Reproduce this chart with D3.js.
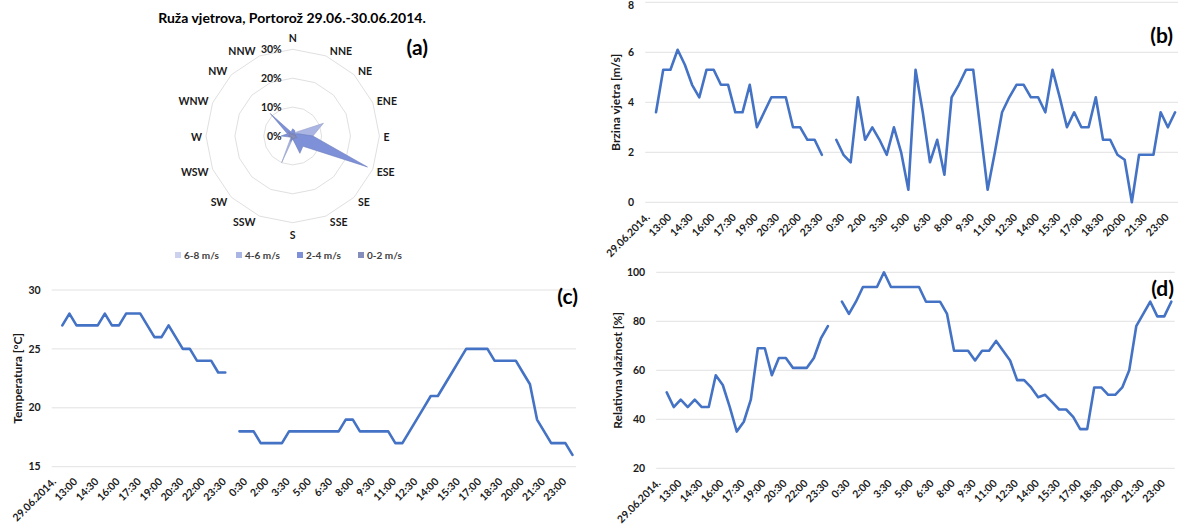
<!DOCTYPE html>
<html>
<head>
<meta charset="utf-8">
<script src="https://cdnjs.cloudflare.com/ajax/libs/d3/7.8.5/d3.min.js"></script>
<style>
body { margin: 0; background: #fff; }
svg { display: block; font-family: Lato, 'Open Sans', sans-serif; }
</style>
</head>
<body>
<div id="chart"></div>
<script>
//Half-hour categories, a date row starts each day
var categories = ['29.06.2014.',
    '12:00','12:30','13:00','13:30','14:00','14:30','15:00','15:30','16:00','16:30','17:00','17:30',
    '18:00','18:30','19:00','19:30','20:00','20:30','21:00','21:30','22:00','22:30','23:00','23:30',
    '30.06.2014.',
    '0:00','0:30','1:00','1:30','2:00','2:30','3:00','3:30','4:00','4:30','5:00','5:30',
    '6:00','6:30','7:00','7:30','8:00','8:30','9:00','9:30','10:00','10:30','11:00','11:30',
    '12:00','12:30','13:00','13:30','14:00','14:30','15:00','15:30','16:00','16:30','17:00','17:30',
    '18:00','18:30','19:00','19:30','20:00','20:30','21:00','21:30','22:00','22:30','23:00','23:30'];

var windSpeed = [null,
    3.6, 5.3, 5.3, 6.1, 5.5, 4.7, 4.2, 5.3, 5.3, 4.7, 4.7, 3.6, 3.6, 4.7, 3.0, 3.6, 4.2, 4.2, 4.2, 3.0, 3.0, 2.5, 2.5, 1.9,
    null,
    2.5, 1.9, 1.6, 4.2, 2.5, 3.0, 2.5, 1.9, 3.0, 2.0, 0.5, 5.3, 3.6, 1.6, 2.5, 1.1, 4.2, 4.7, 5.3, 5.3,
    2.9, 0.5, 2.0, 3.6, 4.2, 4.7, 4.7, 4.2, 4.2, 3.6, 5.3, 4.2, 3.0, 3.6, 3.0, 3.0, 4.2, 2.5, 2.5, 1.9,
    1.7, 0, 1.9, 1.9, 1.9, 3.6, 3.0, 3.6];

var temperature = [null,
    27, 28, 27, 27, 27, 27, 28, 27, 27, 28, 28, 28, 27, 26, 26, 27, 26, 25, 25, 24, 24, 24, 23, 23,
    null,
    18, 18, 18, 17, 17, 17, 17, 18, 18, 18, 18, 18, 18, 18, 18, 19, 19, 18, 18, 18, 18, 18, 17, 17,
    18, 19, 20, 21, 21, 22, 23, 24, 25, 25, 25, 25, 24, 24, 24, 24, 23, 22, 19, 18, 17, 17, 17, 16];

var humidity = [null,
    51, 45, 48, 45, 48, 45, 45, 58, 54, 45, 35, 39, 48, 69, 69, 58, 65, 65, 61, 61, 61, 65, 73, 78,
    null,
    88, 83, 88, 94, 94, 94, 100, 94, 94, 94, 94, 94, 88, 88, 88, 83, 68, 68, 68, 64, 68, 68, 72, 68,
    64, 56, 56, 53, 49, 50, 47, 44, 44, 41, 36, 36, 53, 53, 50, 50, 53, 60, 78, 83, 88, 82, 82, 88];

var windTicks = [0, 2, 4, 6, 8];
var tempTicks = [15, 20, 25, 30];
var humTicks = [20, 40, 60, 80, 100];

//Wind rose, share of time [%] per direction and speed class
var directions = ['N','NNE','NE','ENE','E','ESE','SE','SSE','S','SSW','SW','WSW','W','WNW','NW','NNW'];
var speedClasses = ['6-8 m/s', '4-6 m/s', '2-4 m/s', '0-2 m/s'];
var rose68 = [0, 0, 0.5, 1, 0.5, 0.5, 0, 0, 0, 0, 0, 0, 0, 0, 0, 0];
var rose46 = [1, 1, 2, 11.5, 7, 7, 2, 1, 1, 10, 1, 0.5, 0.5, 0.5, 1, 1];
var rose24 = [2.5, 2, 1, 2, 7, 28, 5, 6.5, 1, 2, 0.5, 1, 4, 2, 11, 1.5];
var rose02 = [1, 0.5, 0.5, 1, 1, 1.5, 1, 1, 1, 1, 0.5, 1, 1.5, 1, 2, 0.5];
var roseTicks = [0, 10, 20, 30];

var lineColor = '#4472c4';
var roseColors = ['#ccd2ee', '#aab5e4', '#7e90d8', '#858dbb'];
var textColor = '#1a1a1a';

var svg = d3.select('#chart')
    .append('svg')
    .attr('width', 1178)
    .attr('height', 524);

drawRose();
drawLineChart({values: windSpeed, left: 645.2, right: 1178.7, top: 2.3, bottom: 202.3,
    domain: [0, 8], ticks: windTicks, title: 'Brzina vjetra [m/s]', titleX: 616,
    letter: '(b)', letterX: 1173, letterY: 43});
drawLineChart({values: temperature, left: 51.7, right: 576, top: 290, bottom: 466.7,
    domain: [15, 30], ticks: tempTicks, title: 'Temperatura [°C]', titleX: 18,
    letter: '(c)', letterX: 578, letterY: 304});
drawLineChart({values: humidity, left: 656.2, right: 1174.8, top: 272.3, bottom: 468.3,
    domain: [20, 100], ticks: humTicks, title: 'Relativna vlažnost [%]', titleX: 618,
    letter: '(d)', letterX: 1174, letterY: 296});

function drawLineChart(o){
    var x = d3.scaleBand()
        .domain(d3.range(categories.length))
        .range([o.left, o.right]);
    var cx = function(i){ return x(i) + x.bandwidth() / 2; };

    var y = d3.scaleLinear()
        .domain(o.domain)
        .range([o.bottom, o.top]);

    var g = svg.append('g');

    //Horizontal gridlines
    g.selectAll('.grid')
        .data(o.ticks)
        .enter()
        .append('line')
        .attr('x1', o.left)
        .attr('x2', o.right)
        .attr('y1', function(d){ return y(d); })
        .attr('y2', function(d){ return y(d); })
        .style('stroke', '#e2e2e2')
        .style('stroke-width', 1);

    //Y tick labels (kept inside the page at the top)
    g.selectAll('.ytick')
        .data(o.ticks)
        .enter()
        .append('text')
        .attr('x', o.left - 11)
        .attr('y', function(d){ return Math.max(y(d), 5); })
        .attr('dy', '0.35em')
        .attr('text-anchor', 'end')
        .style('font-size', '10.5px')
        .style('font-weight', 700)
        .style('fill', textColor)
        .text(function(d){ return d; });

    //X tick labels, every third category
    g.selectAll('.xtick')
        .data(d3.range(0, categories.length, 3))
        .enter()
        .append('text')
        .attr('transform', function(i){
            return 'translate(' + (cx(i) - 1) + ',' + (o.bottom + 13) + ') rotate(-45)';
        })
        .attr('dy', '0.35em')
        .attr('text-anchor', 'end')
        .style('font-size', '10.5px')
        .style('font-weight', 700)
        .style('fill', textColor)
        .text(function(i){ return categories[i]; });

    //Data line, broken at the date rows
    var line = d3.line()
        .defined(function(d){ return d != null; })
        .x(function(d, i){ return cx(i); })
        .y(function(d){ return y(d); });

    g.append('path')
        .attr('d', line(o.values))
        .style('fill', 'none')
        .style('stroke', lineColor)
        .style('stroke-width', 2.6)
        .style('stroke-linejoin', 'round')
        .style('stroke-linecap', 'round');

    //Axis title
    g.append('text')
        .attr('transform', 'translate(' + o.titleX + ',' + ((o.top + o.bottom) / 2) + ') rotate(-90)')
        .attr('dy', '0.35em')
        .attr('text-anchor', 'middle')
        .style('font-size', '12px')
        .style('font-weight', 700)
        .style('fill', textColor)
        .text(o.title);

    g.append('text')
        .attr('x', o.letterX)
        .attr('y', o.letterY)
        .attr('text-anchor', 'end')
        .style('font-size', '21px')
        .style('font-weight', 700)
        .style('fill', '#000')
        .text(o.letter);
}

function drawRose(){
    var cx0 = 292.7, cy0 = 136;
    var step = 2 * Math.PI / directions.length;
    var r = d3.scaleLinear().domain([0, 30]).range([0, 86.7]);
    var g = svg.append('g').attr('transform', 'translate(' + cx0 + ',' + cy0 + ')');

    svg.append('text')
        .attr('x', 292)
        .attr('y', 23)
        .attr('text-anchor', 'middle')
        .style('font-size', '14px')
        .style('font-weight', 700)
        .style('fill', '#000')
        .text('Ruža vjetrova, Portorož 29.06.-30.06.2014.');

    svg.append('text')
        .attr('x', 428)
        .attr('y', 55)
        .attr('text-anchor', 'end')
        .style('font-size', '21px')
        .style('font-weight', 700)
        .style('fill', '#000')
        .text('(a)');

    var radial = d3.lineRadial()
        .angle(function(d, i){ return i * step; })
        .curve(d3.curveLinearClosed);

    //Polygon rings
    g.selectAll('.ring')
        .data(roseTicks.slice(1))
        .enter()
        .append('path')
        .attr('d', function(t){
            return radial.radius(r(t))(directions);
        })
        .style('fill', 'none')
        .style('stroke', '#e0e0e0')
        .style('stroke-width', 1);

    //Filled series, 0-2 m/s on top
    var series = [rose68, rose46, rose24, rose02];
    g.selectAll('.area')
        .data(series)
        .enter()
        .append('path')
        .attr('d', function(s){
            return radial.radius(function(d){ return r(d); })(s);
        })
        .style('fill', function(s, i){ return roseColors[i]; })
        .style('stroke', function(s, i){ return d3.color(roseColors[i]).darker(0.4); })
        .style('stroke-width', 0.6);

    //Ring labels
    g.selectAll('.rtick')
        .data(roseTicks)
        .enter()
        .append('text')
        .attr('x', -11)
        .attr('y', function(t){ return -r(t); })
        .attr('dy', '0.35em')
        .attr('text-anchor', 'end')
        .style('font-size', '10.5px')
        .style('font-weight', 700)
        .style('fill', textColor)
        .text(function(t){ return t + '%'; });

    //Direction labels
    g.selectAll('.dir')
        .data(directions)
        .enter()
        .append('text')
        .attr('x', function(d, i){
            var s = Math.sin(i * step);
            return r(30) * s + (Math.abs(s) < 0.05 ? 0 : (s > 0 ? 4 : -4));
        })
        .attr('y', function(d, i){
            var c = Math.cos(i * step);
            if (Math.abs(c) > 0.99) return -r(30) * c - c * (c > 0 ? 11 : 13);
            return -r(30) * c - c * 6 + 1;
        })
        .attr('dy', '0.35em')
        .attr('text-anchor', function(d, i){
            var s = Math.sin(i * step);
            return Math.abs(s) < 0.05 ? 'middle' : (s > 0 ? 'start' : 'end');
        })
        .style('font-size', '10.5px')
        .style('font-weight', 700)
        .style('fill', textColor)
        .text(function(d){ return d; });

    //Legend
    var lx = d3.scaleBand().domain(speedClasses).range([175, 419]);
    var items = svg.selectAll('.legend')
        .data(speedClasses)
        .enter()
        .append('g')
        .attr('transform', function(d){ return 'translate(' + lx(d) + ',255)'; });
    items.append('rect')
        .attr('x', 0)
        .attr('y', -3)
        .attr('width', 6)
        .attr('height', 6)
        .style('fill', function(d, i){ return roseColors[i]; });
    items.append('text')
        .attr('x', 9)
        .attr('dy', '0.35em')
        .style('font-size', '10px')
        .style('font-weight', 700)
        .style('fill', '#404040')
        .text(function(d){ return d; });
}
</script>
</body>
</html>
